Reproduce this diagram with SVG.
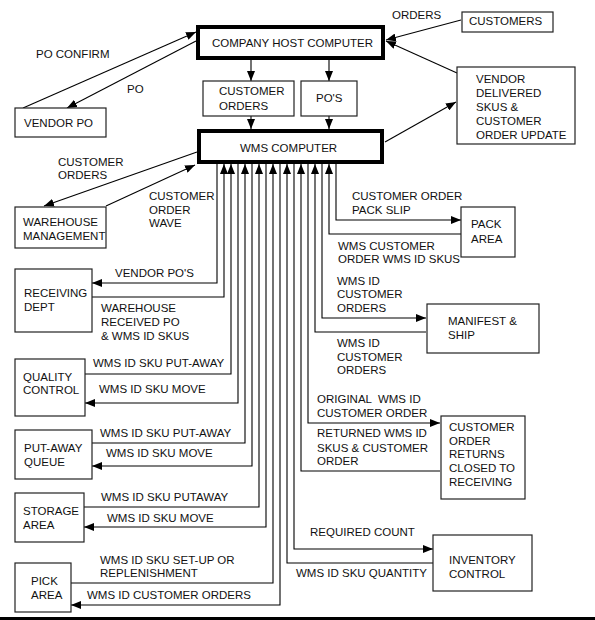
<svg xmlns="http://www.w3.org/2000/svg" width="595" height="620" viewBox="0 0 595 620">
<defs>
<marker id="ah" markerUnits="userSpaceOnUse" markerWidth="10" markerHeight="8" refX="10" refY="4" orient="auto">
<path d="M0,0 L10,4 L0,8 z" fill="#000"/>
</marker>
<style>
.b{fill:#fff;stroke:#222;stroke-width:1.2}
.tb{fill:#fff;stroke:#000;stroke-width:4}
.t{font-family:"Liberation Sans",Arial,sans-serif;font-size:11.5px;fill:#111}
.c{fill:none;stroke:#000;stroke-width:1.1}
.c path,.c line{marker-end:url(#ah)}
</style>
</defs>
<rect width="595" height="620" fill="#fff"/>
<g id="connectors" class="c">
<path d="M251,60 V81"/>
<path d="M329,60 V81"/>
<path d="M251,116 V129"/>
<path d="M329,116 V129"/>
<path d="M23,108 L196,32"/>
<path d="M196,41 L67,108"/>
<path d="M461,20 L386,40"/>
<path d="M457,73 L386,41"/>
<path d="M385,142 L456,102"/>
<path d="M197,152 L44,206"/>
<path d="M106,206 L195,165"/>
<path d="M217,164 V283 H92"/>
<path d="M92,297 H224 V164"/>
<path d="M85,374 H231 V164"/>
<path d="M238,164 V403 H85"/>
<path d="M92,443 H245 V164"/>
<path d="M252,164 V466 H92"/>
<path d="M84,507 H259 V164"/>
<path d="M266,164 V527 H84"/>
<path d="M71,583 H273 V164"/>
<path d="M280,164 V605 H71"/>
<path d="M433,563 H287 V164"/>
<path d="M294,164 V549 H433"/>
<path d="M440,471 H301 V164"/>
<path d="M308,164 V423 H440"/>
<path d="M426,332 H315 V164"/>
<path d="M322,164 V318 H426"/>
<path d="M461,234 H329 V164"/>
<path d="M336,164 V220 H461"/>
</g>
<g id="host"><rect class="tb" x="198" y="27" width="185" height="31"/><text class="t" x="212" y="47">COMPANY HOST COMPUTER</text></g>
<g id="wms"><rect class="tb" x="199" y="131" width="183" height="31"/><text class="t" x="240" y="152">WMS COMPUTER</text></g>
<g id="customer-orders"><rect class="b" x="203" y="81" width="91" height="35"/><text class="t" x="219" y="95">CUSTOMER</text><text class="t" x="219" y="110">ORDERS</text></g>
<g id="pos"><rect class="b" x="301" y="81" width="56" height="35"/><text class="t" x="316" y="102">PO'S</text></g>
<g id="customers"><rect class="b" x="462" y="12" width="91" height="20"/><text class="t" x="469" y="25">CUSTOMERS</text></g>
<g id="vendor-delivered"><rect class="b" x="457" y="67" width="118" height="77"/><text class="t" x="476" y="83">VENDOR</text><text class="t" x="476" y="97">DELIVERED</text><text class="t" x="476" y="111">SKUS &amp;</text><text class="t" x="476" y="125">CUSTOMER</text><text class="t" x="476" y="139">ORDER UPDATE</text></g>
<g id="vendor-po"><rect class="b" x="15" y="108" width="91" height="29"/><text class="t" x="24" y="127">VENDOR PO</text></g>
<g id="warehouse-management"><rect class="b" x="15" y="207" width="91" height="41"/><text class="t" x="23" y="226">WAREHOUSE</text><text class="t" x="23" y="240">MANAGEMENT</text></g>
<g id="receiving"><rect class="b" x="15" y="269" width="77" height="63"/><text class="t" x="24" y="297">RECEIVING</text><text class="t" x="24" y="311">DEPT</text></g>
<g id="quality"><rect class="b" x="15" y="359" width="70" height="57"/><text class="t" x="23" y="381">QUALITY</text><text class="t" x="23" y="394">CONTROL</text></g>
<g id="putaway"><rect class="b" x="15" y="430" width="77" height="49"/><text class="t" x="24" y="452">PUT-AWAY</text><text class="t" x="24" y="466">QUEUE</text></g>
<g id="storage"><rect class="b" x="15" y="493" width="69" height="49"/><text class="t" x="23" y="515">STORAGE</text><text class="t" x="23" y="529">AREA</text></g>
<g id="pick"><rect class="b" x="15" y="563" width="56" height="49"/><text class="t" x="31" y="585">PICK</text><text class="t" x="31" y="599">AREA</text></g>
<g id="pack"><rect class="b" x="461" y="207" width="54" height="50"/><text class="t" x="471" y="228">PACK</text><text class="t" x="471" y="243">AREA</text></g>
<g id="manifest"><rect class="b" x="427" y="304" width="112" height="49"/><text class="t" x="448" y="325">MANIFEST &amp;</text><text class="t" x="448" y="339">SHIP</text></g>
<g id="returns"><rect class="b" x="441" y="416" width="84" height="83"/><text class="t" x="449" y="431">CUSTOMER</text><text class="t" x="449" y="445">ORDER</text><text class="t" x="449" y="458">RETURNS</text><text class="t" x="449" y="472">CLOSED TO</text><text class="t" x="449" y="486">RECEIVING</text></g>
<g id="inventory"><rect class="b" x="433" y="535" width="99" height="56"/><text class="t" x="449" y="564">INVENTORY</text><text class="t" x="449" y="578">CONTROL</text></g>
<g id="labels">
<text class="t" x="392" y="19">ORDERS</text>
<text class="t" x="36" y="58">PO CONFIRM</text>
<text class="t" x="127" y="93">PO</text>
<text class="t" x="58" y="166">CUSTOMER</text><text class="t" x="58" y="179">ORDERS</text>
<text class="t" x="149" y="200">CUSTOMER</text><text class="t" x="149" y="214">ORDER</text><text class="t" x="149" y="227">WAVE</text>
<text class="t" x="352" y="200">CUSTOMER ORDER</text><text class="t" x="352" y="214">PACK SLIP</text>
<text class="t" x="338" y="250">WMS CUSTOMER</text><text class="t" x="338" y="263">ORDER WMS ID SKUS</text>
<text class="t" x="115" y="277">VENDOR PO'S</text>
<text class="t" x="101" y="312">WAREHOUSE</text><text class="t" x="101" y="326">RECEIVED PO</text><text class="t" x="101" y="340">&amp; WMS ID SKUS</text>
<text class="t" x="337" y="285">WMS ID</text><text class="t" x="337" y="298">CUSTOMER</text><text class="t" x="337" y="312">ORDERS</text>
<text class="t" x="337" y="347">WMS ID</text><text class="t" x="337" y="361">CUSTOMER</text><text class="t" x="337" y="374">ORDERS</text>
<text class="t" x="93" y="367">WMS ID SKU PUT-AWAY</text>
<text class="t" x="99" y="393">WMS ID SKU MOVE</text>
<text class="t" x="317" y="403" xml:space="preserve">ORIGINAL  WMS ID</text><text class="t" x="317" y="417">CUSTOMER ORDER</text>
<text class="t" x="317" y="437">RETURNED WMS ID</text><text class="t" x="317" y="452">SKUS &amp; CUSTOMER</text><text class="t" x="317" y="465">ORDER</text>
<text class="t" x="100" y="437">WMS ID SKU PUT-AWAY</text>
<text class="t" x="106" y="457">WMS ID SKU MOVE</text>
<text class="t" x="101" y="501">WMS ID SKU PUTAWAY</text>
<text class="t" x="107" y="522">WMS ID SKU MOVE</text>
<text class="t" x="310" y="536">REQUIRED COUNT</text>
<text class="t" x="100" y="564">WMS ID SKU SET-UP OR</text><text class="t" x="100" y="577">REPLENISHMENT</text>
<text class="t" x="296" y="577">WMS ID SKU QUANTITY</text>
<text class="t" x="87" y="599">WMS ID CUSTOMER ORDERS</text>
</g>
<rect x="0" y="617" width="595" height="3" fill="#000"/>
</svg>
